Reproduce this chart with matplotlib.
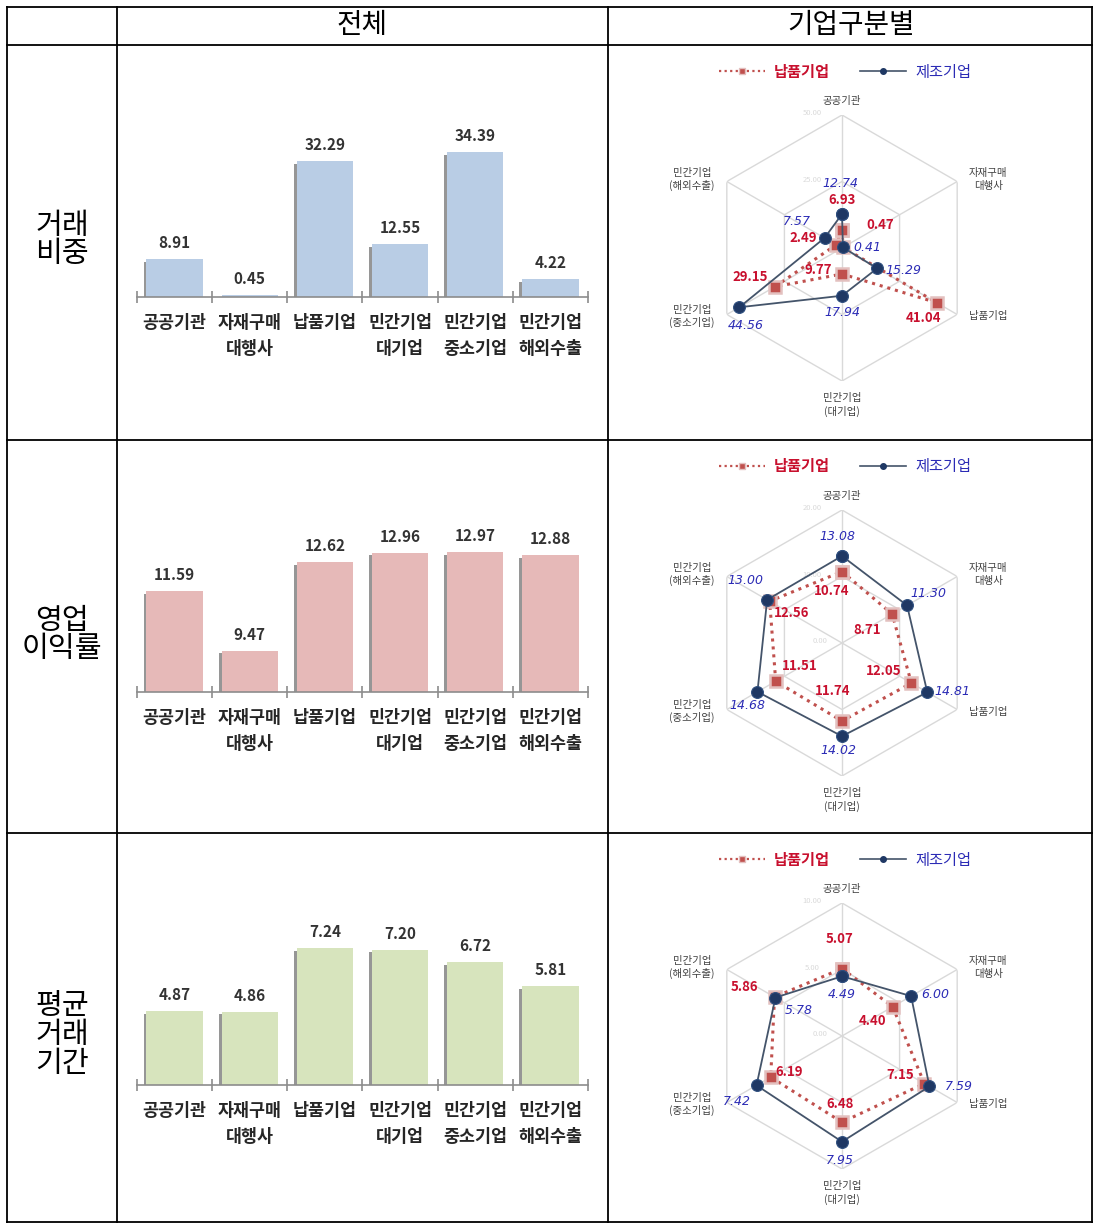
import numpy as np
import matplotlib.pyplot as plt
import matplotlib.patheffects as pe
from matplotlib.lines import Line2D

plt.rcParams['font.family'] = ['Noto Sans CJK KR', 'DejaVu Sans']

W, H = 1093, 1223

# ---- data ----
categories = ['공공기관', '자재구매\n대행사', '납품기업', '민간기업\n대기업', '민간기업\n중소기업', '민간기업\n해외수출']
radar_labels = ['공공기관', '자재구매\n대행사', '납품기업', '민간기업\n(대기업)', '민간기업\n(중소기업)', '민간기업\n(해외수출)']
row_titles = ['거래\n비중', '영업\n이익률', '평균\n거래\n기간']
col_titles = ['전체', '기업구분별']
series_names = ['납품기업', '제조기업']

share_total = [8.91, 0.45, 32.29, 12.55, 34.39, 4.22]
margin_total = [11.59, 9.47, 12.62, 12.96, 12.97, 12.88]
period_total = [4.87, 4.86, 7.24, 7.20, 6.72, 5.81]

share_supplier = [6.93, 0.47, 41.04, 9.77, 29.15, 2.49]
share_maker = [12.74, 0.41, 15.29, 17.94, 44.56, 7.57]
margin_supplier = [10.74, 8.71, 12.05, 11.74, 11.51, 12.56]
margin_maker = [13.08, 11.30, 14.81, 14.02, 14.68, 13.00]
period_supplier = [5.07, 4.40, 7.15, 6.48, 6.19, 5.86]
period_maker = [4.49, 6.00, 7.59, 7.95, 7.42, 5.78]

# ---- layout / style ----
row_tops = [45, 440, 833]
bar_colors = ['#b9cde5', '#e6b9b8', '#d7e4bd']
bar_ylims = [(0, 40.3), (8, 14.05), (2.1, 8.5)]
radar_max = [50, 20, 10]
show_center_label = [False, True, True]

# label offsets in pixels (supplier, maker) per row
off_sup = [
    [(0, 30), (37, 22), (-13, -15), (-24, 4), (-25, 10), (-33, 7)],
    [(-10, -19), (-25, -16), (-28, 12), (-9, 30), (24, 15), (22, -12)],
    [(-2, 30), (-20, -14), (-24, 9), (-2, 18), (18, 5), (-30, 10)],
]
off_mak = [
    [(-2, 31), (24, 0), (26, -2), (0, -17), (6, -18), (-28, 16)],
    [(-5, 20), (21, 12), (25, 1), (-4, -14), (-10, -14), (-22, 19)],
    [(0, -18), (24, 2), (29, 0), (-2, -19), (-20, -16), (23, -13)],
]
axis_label_off = [(0, 14), (31, 2), (31, -2), (0, -24), (-35, -2), (-35, 2)]

RED = '#c0504d'
RED_TXT = '#c8102e'
BLUE_TXT = '#2b2bb5'
NAVY = '#1f3864'

fig = plt.figure(figsize=(W / 100, H / 100), dpi=100)


def fx(x):
    return x / W


def fy(y):
    return 1 - y / H


def bar_panel(top, vals, color, ylim):
    base = top + 252
    ax = fig.add_axes([fx(137), fy(base), 451 / W, 170 / H])
    x = np.arange(len(vals))
    bars = ax.bar(x, vals, width=0.75, color=color, edgecolor='none', zorder=2)
    for b in bars:
        b.set_path_effects([pe.SimplePatchShadow(offset=(-2, -2), shadow_rgbFace='#404040', alpha=0.55),
                            pe.Normal()])
    for i, v in enumerate(vals):
        ax.annotate(f'{v:.2f}', (i, v), xytext=(0, 8), textcoords='offset pixels',
                    ha='center', va='bottom', fontsize=11, fontweight='bold', color='#333333')
    ax.set_xlim(-0.5, len(vals) - 0.5)
    ax.set_ylim(*ylim)
    for s in ['top', 'right', 'left']:
        ax.spines[s].set_visible(False)
    ax.spines['bottom'].set_color('#8c8c8c')
    ax.spines['bottom'].set_linewidth(1.2)
    ax.set_yticks([])
    ax.set_xticks(x)
    ax.set_xticklabels(categories, fontsize=12.5, fontweight='bold', color='#262626', linespacing=1.6)
    ax.set_xticks(np.arange(len(vals) + 1) - 0.5, minor=True)
    ax.tick_params(axis='x', which='major', length=0, pad=12)
    ax.tick_params(axis='x', which='minor', direction='inout', length=9, color='#8c8c8c', width=1.2)
    ax.patch.set_alpha(0)


def radar_panel(top, sup, mak, rmax, o_sup, o_mak, center_label):
    cy = top + 203
    ax = fig.add_axes([fx(842 - 133), fy(cy + 133), 266 / W, 266 / H], projection='polar')
    ax.set_theta_offset(np.pi / 2)
    ax.set_theta_direction(-1)
    ax.set_ylim(0, rmax)
    ax.set_axis_off()
    n = len(sup)
    theta = np.linspace(0, 2 * np.pi, n + 1)
    for frac in (0.5, 1.0):
        ax.plot(theta, [rmax * frac] * (n + 1), color='#d9d9d9', lw=1, zorder=1)
        ax.annotate(f'{rmax * frac:.2f}', (0, rmax * frac), xytext=(-30, 2), textcoords='offset pixels',
                    ha='center', va='center', fontsize=5.5, color='#dadada', zorder=0)
    if center_label:
        ax.annotate('0.00', (0, 0), xytext=(-22, 2), textcoords='offset pixels',
                    ha='center', va='center', fontsize=5.5, color='#dadada', zorder=0)
    for t in theta[:-1]:
        ax.plot([t, t], [0, rmax], color='#d9d9d9', lw=1, zorder=1)

    ax.plot(theta, list(sup) + [sup[0]], ls=(0, (1, 1.6)), color=RED, lw=2.2,
            marker='s', ms=9, mfc=RED, mec='#e3c0bf', mew=1.8, zorder=3, clip_on=False)
    ax.plot(theta, list(mak) + [mak[0]], ls='-', color='#44546a', lw=1.3,
            marker='o', ms=8.5, mfc=NAVY, mec='#2f4f7f', mew=0.8, zorder=4, clip_on=False)

    for i in range(n):
        ax.annotate(f'{sup[i]:.2f}', (theta[i], sup[i]), xytext=o_sup[i], textcoords='offset pixels',
                    ha='center', va='center', fontsize=9.5, fontweight='bold', color=RED_TXT,
                    zorder=6, annotation_clip=False)
        ax.annotate(f'{mak[i]:.2f}', (theta[i], mak[i]), xytext=o_mak[i], textcoords='offset pixels',
                    ha='center', va='center', fontsize=9, fontstyle='italic', color=BLUE_TXT,
                    family='DejaVu Sans', zorder=6, annotation_clip=False)
        ax.annotate(radar_labels[i], (theta[i], rmax), xytext=axis_label_off[i], textcoords='offset pixels',
                    ha='center', va='center', fontsize=7.5, color='#404040', linespacing=1.3,
                    annotation_clip=False)

    h1 = Line2D([], [], ls=(0, (1, 1.5)), color=RED, lw=1.6, marker='s', ms=5, mfc=RED, mec='#e3c0bf')
    h2 = Line2D([], [], ls='-', color='#44546a', lw=1.2, marker='o', ms=4, mfc=NAVY, mec=NAVY)
    leg = ax.legend([h1, h2], series_names, loc='center', bbox_to_anchor=(fx(845), fy(top + 27)),
                    bbox_transform=fig.transFigure, ncol=2, frameon=False, fontsize=11,
                    handlelength=3.0, handletextpad=0.6, columnspacing=2.0)
    t1, t2 = leg.get_texts()
    t1.set_color(RED_TXT)
    t1.set_fontweight('bold')
    t2.set_color(BLUE_TXT)
    t2.set_fontstyle('italic')


totals = [share_total, margin_total, period_total]
suppliers = [share_supplier, margin_supplier, period_supplier]
makers = [share_maker, margin_maker, period_maker]

for r in range(3):
    bar_panel(row_tops[r], totals[r], bar_colors[r], bar_ylims[r])
    radar_panel(row_tops[r], suppliers[r], makers[r], radar_max[r], off_sup[r], off_mak[r],
                show_center_label[r])


# ---- table grid ----
def hline(y, x0=7, x1=1093):
    fig.add_artist(Line2D([fx(x0), fx(x1)], [fy(y), fy(y)], transform=fig.transFigure, color='black', lw=1.3))


def vline(x, y0=7, y1=1223):
    fig.add_artist(Line2D([fx(x), fx(x)], [fy(y0), fy(y1)], transform=fig.transFigure, color='black', lw=1.3))


for y in [7, 45, 440, 833, 1222]:
    hline(y)
for x in [7, 117, 608, 1092]:
    vline(x)

fig.text(fx(362), fy(25), col_titles[0], ha='center', va='center', fontsize=20, color='black')
fig.text(fx(851), fy(25), col_titles[1], ha='center', va='center', fontsize=20, color='black')
row_centers = [240, 635, 1035]
for t, yc in zip(row_titles, row_centers):
    fig.text(fx(62), fy(yc), t, ha='center', va='center', fontsize=21, linespacing=0.95, color='black')

fig.savefig('out.png', dpi=100)
